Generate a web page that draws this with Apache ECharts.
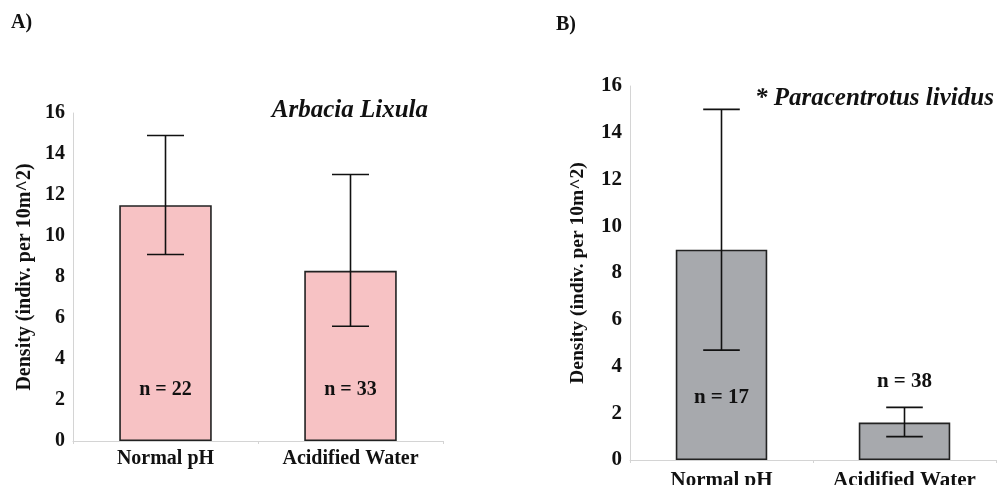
<!DOCTYPE html>
<html>
<head>
<meta charset="utf-8">
<script src="https://cdn.jsdelivr.net/npm/echarts@6/dist/echarts.min.js"></script>
<style>
html,body{margin:0;padding:0;background:#fff;}
#main{width:998px;height:485px;}
</style>
</head>
<body>
<div id="main"></div>
<script>
var categories = ['Normal pH', 'Acidified Water'];
var yTicks = [0, 2, 4, 6, 8, 10, 12, 14, 16];

// Panel A: Arbacia Lixula
var meanA = [11.5, 8.3];
var lowA = [9.1, 5.6];
var highA = [14.9, 13.0];
var nA = ['n = 22', 'n = 33'];
var nLabelYA = [2.5, 2.5];

// Panel B: Paracentrotus lividus
var meanB = [9.0, 1.6];
var lowB = [4.7, 1.0];
var highB = [15.0, 2.25];
var nB = ['n = 17', 'n = 38'];
var nLabelYB = [2.65, 3.35];

var FONT = '"Liberation Serif", "Times New Roman", serif';

function errData(lo, hi) {
  return categories.map(function (c, i) { return [i, lo[i], hi[i]]; });
}
function labelData(ys) {
  return categories.map(function (c, i) { return [i, ys[i]]; });
}
function renderErr(params, api) {
  var x = api.value(0);
  var lo = api.coord([x, api.value(1)]);
  var hi = api.coord([x, api.value(2)]);
  var half = api.size([1, 0])[0] * 0.1;
  var style = { stroke: '#111', lineWidth: 1.6 };
  return {
    type: 'group',
    children: [
      { type: 'line', shape: { x1: hi[0], y1: hi[1], x2: lo[0], y2: lo[1] }, style: style },
      { type: 'line', shape: { x1: hi[0] - half, y1: hi[1], x2: hi[0] + half, y2: hi[1] }, style: style },
      { type: 'line', shape: { x1: lo[0] - half, y1: lo[1], x2: lo[0] + half, y2: lo[1] }, style: style }
    ]
  };
}
function mkLabelSeries(xi, ys, texts, fs) {
  return {
    type: 'custom', xAxisIndex: xi, yAxisIndex: xi, z: 5,
    data: labelData(ys),
    renderItem: function (params, api) {
      var p = api.coord([api.value(0), api.value(1)]);
      return {
        type: 'text', x: p[0], y: p[1],
        style: {
          text: texts[params.dataIndex],
          font: 'bold ' + fs + 'px ' + FONT, fill: '#111',
          align: 'center', verticalAlign: 'middle'
        }
      };
    }
  };
}

function xAxisCfg(gi, fs, margin) {
  return {
    type: 'category', gridIndex: gi, data: categories,
    axisLine: { lineStyle: { color: '#d4d4d4', width: 1 } },
    axisTick: { show: true, length: 3, lineStyle: { color: '#d4d4d4' } },
    axisLabel: { color: '#111', fontFamily: FONT, fontWeight: 'bold', fontSize: fs, margin: margin,
      interval: 0, hideOverlap: false, showMinLabel: true, showMaxLabel: true }
  };
}
function yAxisCfg(gi, fs, gap, nfs) {
  return {
    type: 'value', gridIndex: gi, min: 0, max: 16, interval: 2,
    name: 'Density (indiv. per 10m^2)', nameLocation: 'middle', nameGap: gap,
    nameTextStyle: { color: '#111', fontFamily: FONT, fontWeight: 'bold', fontSize: nfs },
    axisLine: { show: true, lineStyle: { color: '#d4d4d4', width: 1 } },
    axisTick: { show: false },
    splitLine: { show: false },
    axisLabel: { color: '#111', fontFamily: FONT, fontWeight: 'bold', fontSize: fs, margin: 8,
      formatter: function (v) { return yTicks.indexOf(v) >= 0 ? String(v) : ''; } }
  };
}

var chart = echarts.init(document.getElementById('main'), null, { renderer: 'canvas' });
chart.setOption({
  backgroundColor: '#fff',
  animation: false,
  grid: [
    { left: 73, top: 113, width: 370, height: 328, containLabel: false, outerBoundsMode: 'none' },
    { left: 630, top: 86, width: 366, height: 374, containLabel: false, outerBoundsMode: 'none' }
  ],
  xAxis: [xAxisCfg(0, 20, 8), xAxisCfg(1, 21, 10)],
  yAxis: [yAxisCfg(0, 20, 38, 20), yAxisCfg(1, 21, 42, 19.5)],
  graphic: [
    { type: 'text', left: 11, top: 13, style: { text: 'A)', font: 'bold 20px ' + FONT, fill: '#111' } },
    { type: 'text', left: 556, top: 15, style: { text: 'B)', font: 'bold 20px ' + FONT, fill: '#111' } },
    { type: 'text', right: 570, top: 98, style: { text: 'Arbacia Lixula', font: 'italic bold 25px ' + FONT, fill: '#111' } },
    { type: 'text', left: 755, top: 86, style: { text: '* Paracentrotus lividus', font: 'italic bold 25px ' + FONT, fill: '#111' } }
  ],
  series: [
    { type: 'bar', xAxisIndex: 0, yAxisIndex: 0, data: meanA, barWidth: '50%',
      itemStyle: { color: '#f7c2c4', borderColor: '#222', borderWidth: 1.6 } },
    { type: 'custom', xAxisIndex: 0, yAxisIndex: 0, data: errData(lowA, highA), renderItem: renderErr, z: 4 },
    mkLabelSeries(0, nLabelYA, nA, 20),
    { type: 'bar', xAxisIndex: 1, yAxisIndex: 1, data: meanB, barWidth: '50%',
      itemStyle: { color: '#a7a9ad', borderColor: '#222', borderWidth: 1.6 } },
    { type: 'custom', xAxisIndex: 1, yAxisIndex: 1, data: errData(lowB, highB), renderItem: renderErr, z: 4 },
    mkLabelSeries(1, nLabelYB, nB, 21)
  ]
});
</script>
</body>
</html>
